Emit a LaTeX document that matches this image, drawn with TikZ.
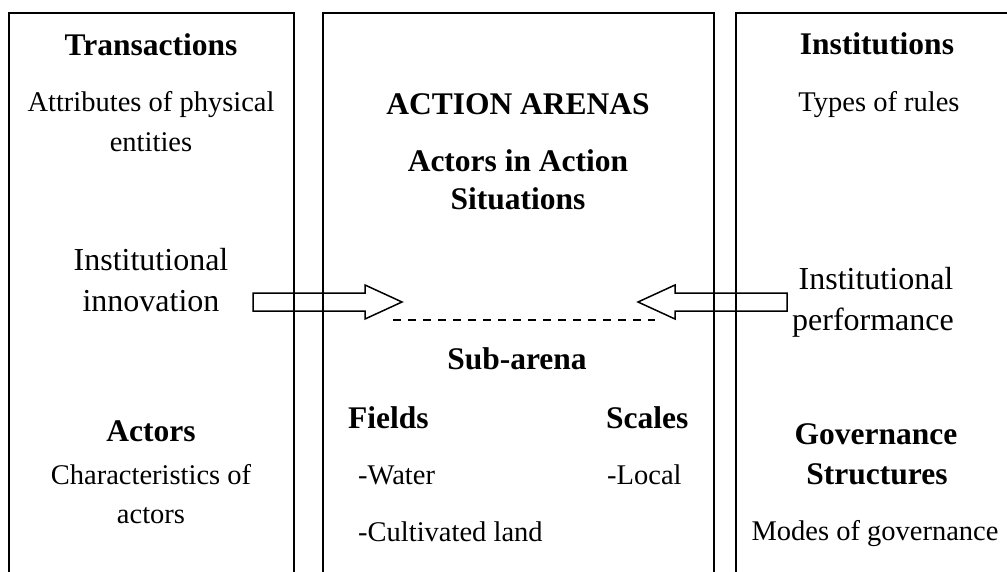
\documentclass[tikz,border=0pt]{standalone}
\usepackage{fontspec}
\setmainfont{Liberation Serif}
\begin{document}
\begin{tikzpicture}[x=1pt,y=-1pt,
  hd/.style={font=\fontsize{31.5}{38}\selectfont\bfseries, anchor=base, inner sep=0pt},
  tx/.style={font=\fontsize{28.5}{34}\selectfont, anchor=base, inner sep=0pt},
  big/.style={font=\fontsize{32}{38}\selectfont, anchor=base, inner sep=0pt},
  panel/.style={line width=1.7pt},
  blockarrow/.style={line width=1.5pt, line join=miter},
  divider/.style={line width=1.3pt, dash pattern=on 8pt off 7pt}]
\useasboundingbox (0,0) rectangle (1007,572);
\begin{scope}
\clip (0,0) rectangle (1007,572);
% panels
\draw[panel] (9,574) -- (9,13) -- (294,13) -- (294,574);
\draw[panel] (323,574) -- (323,13) -- (714,13) -- (714,574);
\draw[panel] (736,574) -- (736,13) -- (1012,13);
% block arrows
\draw[blockarrow] (253,293) -- (365,293) -- (365,285) -- (402,302) -- (365,319) -- (365,311) -- (253,311) -- cycle;
\draw[blockarrow] (787,293) -- (675,293) -- (675,285) -- (638,302) -- (675,319) -- (675,311) -- (787,311) -- cycle;
\end{scope}
% dashed divider
\coordinate (dl) at (393,320);
\coordinate (dr) at (655,320);
\draw[divider] (dl) -- (dr);
% left column
\node[hd] (trans) at (151,56) {Transactions};
\node[tx] (attr1) at (151,112) {Attributes of physical};
\node[tx] (attr2) at (151,152) {entities};
\node[big] (inno1) at (151,271) {Institutional};
\node[big] (inno2) at (151,311) {innovation};
\node[hd] (actors) at (151,441) {Actors};
\node[tx] (char1) at (151,484) {Characteristics of};
\node[tx] (char2) at (151,523) {actors};
% middle column
\node[hd] (arenas) at (518,115) {ACTION ARENAS};
\node[hd] (ais1) at (518,172) {Actors in Action};
\node[hd] (ais2) at (518,210) {Situations};
\node[hd] (sub) at (517,369) {Sub-arena};
\node[hd, anchor=base west] (fields) at (348,428) {Fields};
\node[hd, anchor=base west] (scales) at (606,428) {Scales};
\node[tx, anchor=base west] (water) at (358,484) {-Water};
\node[tx, anchor=base west] (local) at (607,484) {-Local};
\node[tx, anchor=base west] (cult) at (358,541) {-Cultivated land};
% right column
\node[hd] (inst) at (877,55) {Institutions};
\node[tx] (types) at (879,112) {Types of rules};
\node[big] (perf1) at (876,289) {Institutional};
\node[big] (perf2) at (873,330) {performance};
\node[hd] (gov1) at (876,444) {Governance};
\node[hd] (gov2) at (877,484) {Structures};
\node[tx] (modes) at (875,540) {Modes of governance};
\end{tikzpicture}
\end{document}
